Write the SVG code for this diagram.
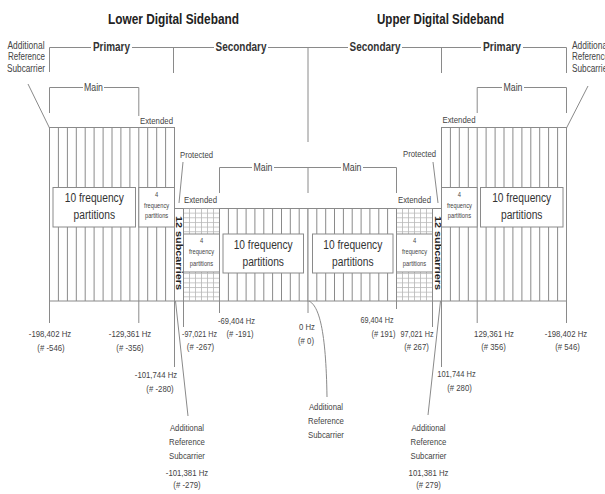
<svg xmlns="http://www.w3.org/2000/svg" width="605" height="494" viewBox="0 0 605 494">
<style>
.ln{stroke:#8a8a8a;stroke-width:1;fill:none}
.bx{fill:#fff;stroke:#8a8a8a;stroke-width:1}
.fr{fill:#fff;stroke:#8a8a8a;stroke-width:1}
.t{font-family:"Liberation Sans",Arial,sans-serif;fill:#444;text-anchor:middle}
.title{font-size:15px;font-weight:bold;fill:#222}
.hd{font-size:12px;font-weight:bold;fill:#333}
.lb{font-size:10px}
.mn{font-size:10.5px}
.sm{font-size:9.5px}
.bt{font-size:12.5px;fill:#333}
.tiny{font-size:7px}
.vt{font-size:9px;font-weight:bold;fill:#222}
.st{text-anchor:start}
</style>
<defs>
<pattern id="gridL" patternUnits="userSpaceOnUse" x="183" y="208" width="6" height="4.65"><path d="M0.5,0V4.65M0,0.5H6" stroke="#b8b8b8" stroke-width="0.8" fill="none"/></pattern>
<pattern id="gridR" patternUnits="userSpaceOnUse" x="396" y="208" width="6" height="4.65"><path d="M0.5,0V4.65M0,0.5H6" stroke="#b8b8b8" stroke-width="0.8" fill="none"/></pattern>
</defs>
<rect width="605" height="494" fill="#fff"/>

<g id="titles">
<text class="t title" x="173.5" y="24" textLength="131" lengthAdjust="spacingAndGlyphs">Lower Digital Sideband</text>
<text class="t title" x="440.5" y="24" textLength="127" lengthAdjust="spacingAndGlyphs">Upper Digital Sideband</text>
</g>

<g id="lower-primary">
<rect class="fr" x="49.5" y="127.5" width="125" height="173.5"/>
<path class="ln" d="M58.4,127.5V301M67.4,127.5V301M76.3,127.5V301M85.2,127.5V301M94.1,127.5V301M103.1,127.5V301M112,127.5V301M120.9,127.5V301M129.9,127.5V301M138.8,127.5V301M147.7,127.5V301M156.7,127.5V301M165.6,127.5V301"/>
<rect class="bx" x="53" y="187.5" width="82.5" height="39.5"/>
<text class="t bt" x="94.3" y="202" textLength="59" lengthAdjust="spacingAndGlyphs">10 frequency</text>
<text class="t bt" x="94.3" y="219" textLength="41.5" lengthAdjust="spacingAndGlyphs">partitions</text>
<rect class="bx" x="138.8" y="187.5" width="35.7" height="39.5"/>
<text class="t tiny" x="156.6" y="197" textLength="3.2" lengthAdjust="spacingAndGlyphs">4</text>
<text class="t tiny" x="156.6" y="208" textLength="25" lengthAdjust="spacingAndGlyphs">frequency</text>
<text class="t tiny" x="156.6" y="218" textLength="23.3" lengthAdjust="spacingAndGlyphs">partitions</text>
</g>

<g id="lower-secondary">
<rect class="fr" x="174.5" y="208.5" width="133.5" height="92.5"/>
<rect x="183.5" y="208.5" width="36" height="92.5" fill="url(#gridL)"/>
<path class="ln" d="M183.5,208.5V301M219.5,208.5V301M228.4,208.5V301M237.2,208.5V301M246.1,208.5V301M254.9,208.5V301M263.8,208.5V301M272.6,208.5V301M281.5,208.5V301M290.3,208.5V301M299.2,208.5V301"/>
<rect class="bx" x="183.5" y="234" width="36" height="38"/>
<text class="t tiny" x="201.5" y="243" textLength="3.2" lengthAdjust="spacingAndGlyphs">4</text>
<text class="t tiny" x="201.5" y="254" textLength="25" lengthAdjust="spacingAndGlyphs">frequency</text>
<text class="t tiny" x="201.5" y="266" textLength="23.3" lengthAdjust="spacingAndGlyphs">partitions</text>
<rect class="bx" x="223" y="234" width="80.5" height="39"/>
<text class="t bt" x="263.2" y="249" textLength="59" lengthAdjust="spacingAndGlyphs">10 frequency</text>
<text class="t bt" x="263.2" y="266" textLength="41.5" lengthAdjust="spacingAndGlyphs">partitions</text>
<text class="t vt" transform="translate(176,253) rotate(90)" textLength="74" lengthAdjust="spacingAndGlyphs">12 subcarriers</text>
</g>

<g id="upper-secondary">
<rect class="fr" x="308" y="208.5" width="133.5" height="92.5"/>
<rect x="396.5" y="208.5" width="36" height="92.5" fill="url(#gridR)"/>
<path class="ln" d="M432.5,208.5V301M396.5,208.5V301M387.6,208.5V301M378.8,208.5V301M369.9,208.5V301M361.1,208.5V301M352.2,208.5V301M343.4,208.5V301M334.5,208.5V301M325.7,208.5V301M316.8,208.5V301"/>
<rect class="bx" x="396.5" y="234" width="36" height="38"/>
<text class="t tiny" x="414.5" y="243" textLength="3.2" lengthAdjust="spacingAndGlyphs">4</text>
<text class="t tiny" x="414.5" y="254" textLength="25" lengthAdjust="spacingAndGlyphs">frequency</text>
<text class="t tiny" x="414.5" y="266" textLength="23.3" lengthAdjust="spacingAndGlyphs">partitions</text>
<rect class="bx" x="312.5" y="234" width="80.5" height="39"/>
<text class="t bt" x="352.8" y="249" textLength="59" lengthAdjust="spacingAndGlyphs">10 frequency</text>
<text class="t bt" x="352.8" y="266" textLength="41.5" lengthAdjust="spacingAndGlyphs">partitions</text>
<text class="t vt" transform="translate(434.5,253) rotate(90)" textLength="74" lengthAdjust="spacingAndGlyphs">12 subcarriers</text>
</g>

<g id="upper-primary">
<rect class="fr" x="441.5" y="127.5" width="125" height="173.5"/>
<path class="ln" d="M557.6,127.5V301M548.6,127.5V301M539.7,127.5V301M530.8,127.5V301M521.9,127.5V301M512.9,127.5V301M504,127.5V301M495.1,127.5V301M486.1,127.5V301M477.2,127.5V301M468.3,127.5V301M459.3,127.5V301M450.4,127.5V301"/>
<rect class="bx" x="441.5" y="187.5" width="35.7" height="39.5"/>
<text class="t tiny" x="459.4" y="197" textLength="3.2" lengthAdjust="spacingAndGlyphs">4</text>
<text class="t tiny" x="459.4" y="208" textLength="25" lengthAdjust="spacingAndGlyphs">frequency</text>
<text class="t tiny" x="459.4" y="218" textLength="23.3" lengthAdjust="spacingAndGlyphs">partitions</text>
<rect class="bx" x="480.5" y="187.5" width="82.5" height="39.5"/>
<text class="t bt" x="521.7" y="202" textLength="59" lengthAdjust="spacingAndGlyphs">10 frequency</text>
<text class="t bt" x="521.7" y="219" textLength="41.5" lengthAdjust="spacingAndGlyphs">partitions</text>
</g>

<g id="connectors">
<path class="ln" d="M49.5,72V47.5H91M132,47.5H214M268,47.5H348M402,47.5H481M523,47.5H566.5V73M173.5,47.5V73M308,47.5V142M441.5,47.5V73"/>
<path class="ln" d="M49.5,113V87.5H83M104,87.5H138.8V116"/>
<path class="ln" d="M477.2,113V87.5H502M524,87.5H566.5V113"/>
<path class="ln" d="M219.5,193V167.5H252M274,167.5H341M363,167.5H396.5V193M308,167.5V193"/>
<path class="ln" d="M28,84L49.5,128M588,86L566.5,128"/>
<path class="ln" d="M183,162L179,203M433,162L438,203"/>
<path class="ln" d="M49.5,301V323M138.8,301V323M174.5,301V367M183.5,301V327M219.5,301V313M308,301V313M396.5,301V309M432.5,301V327M441.5,301V367M477.2,301V323M566.5,301V323"/>
<path class="ln" d="M175.5,301L188,416M440.5,301L428,415M309,301C319,306 326,330 327,397"/>
</g>

<g id="band-labels">
<text class="t hd" x="111.5" y="51" textLength="37" lengthAdjust="spacingAndGlyphs">Primary</text>
<text class="t hd" x="241" y="51" textLength="51" lengthAdjust="spacingAndGlyphs">Secondary</text>
<text class="t hd" x="375" y="51" textLength="51" lengthAdjust="spacingAndGlyphs">Secondary</text>
<text class="t hd" x="502" y="51" textLength="38" lengthAdjust="spacingAndGlyphs">Primary</text>
<text class="t mn" x="93.5" y="91" textLength="19" lengthAdjust="spacingAndGlyphs">Main</text>
<text class="t mn" x="513" y="91" textLength="19" lengthAdjust="spacingAndGlyphs">Main</text>
<text class="t mn" x="263" y="171" textLength="19" lengthAdjust="spacingAndGlyphs">Main</text>
<text class="t mn" x="352" y="171" textLength="19" lengthAdjust="spacingAndGlyphs">Main</text>
<text class="t sm" x="156.5" y="124" textLength="33" lengthAdjust="spacingAndGlyphs">Extended</text>
<text class="t sm" x="459" y="123" textLength="33" lengthAdjust="spacingAndGlyphs">Extended</text>
<text class="t sm" x="200.5" y="203" textLength="33" lengthAdjust="spacingAndGlyphs">Extended</text>
<text class="t sm" x="414.5" y="203" textLength="33" lengthAdjust="spacingAndGlyphs">Extended</text>
<text class="t sm" x="196.5" y="158" textLength="33" lengthAdjust="spacingAndGlyphs">Protected</text>
<text class="t sm" x="419.5" y="157" textLength="33" lengthAdjust="spacingAndGlyphs">Protected</text>
</g>

<g id="ars-top-left">
<text class="t lb" x="26" y="49" textLength="37" lengthAdjust="spacingAndGlyphs">Additional</text>
<text class="t lb" x="26.5" y="60" textLength="37" lengthAdjust="spacingAndGlyphs">Reference</text>
<text class="t lb" x="26" y="71.5" textLength="38" lengthAdjust="spacingAndGlyphs">Subcarrier</text>
</g>
<g id="ars-top-right">
<text class="t lb st" x="572" y="49" textLength="37" lengthAdjust="spacingAndGlyphs">Additional</text>
<text class="t lb st" x="572" y="60" textLength="37" lengthAdjust="spacingAndGlyphs">Reference</text>
<text class="t lb st" x="572" y="71.5" textLength="38" lengthAdjust="spacingAndGlyphs">Subcarrier</text>
</g>

<g id="freq-labels">
<text class="t sm" x="50" y="337" textLength="42.4" lengthAdjust="spacingAndGlyphs">-198,402 Hz</text>
<text class="t sm" x="51" y="351" textLength="27.3" lengthAdjust="spacingAndGlyphs">(# -546)</text>
<text class="t sm" x="130" y="337" textLength="42.4" lengthAdjust="spacingAndGlyphs">-129,361 Hz</text>
<text class="t sm" x="130" y="351" textLength="27.3" lengthAdjust="spacingAndGlyphs">(# -356)</text>
<text class="t sm" x="199.5" y="337" textLength="35" lengthAdjust="spacingAndGlyphs">-97,021 Hz</text>
<text class="t sm" x="200.5" y="350" textLength="27.3" lengthAdjust="spacingAndGlyphs">(# -267)</text>
<text class="t sm" x="236.5" y="324" textLength="37" lengthAdjust="spacingAndGlyphs">-69,404 Hz</text>
<text class="t sm" x="240" y="337" textLength="27" lengthAdjust="spacingAndGlyphs">(# -191)</text>
<text class="t sm" x="156" y="378" textLength="42.4" lengthAdjust="spacingAndGlyphs">-101,744 Hz</text>
<text class="t sm" x="160" y="392" textLength="27.3" lengthAdjust="spacingAndGlyphs">(# -280)</text>
<text class="t sm" x="307" y="330" textLength="16" lengthAdjust="spacingAndGlyphs">0 Hz</text>
<text class="t sm" x="306" y="344" textLength="16" lengthAdjust="spacingAndGlyphs">(# 0)</text>
<text class="t sm" x="377" y="323" textLength="33" lengthAdjust="spacingAndGlyphs">69,404 Hz</text>
<text class="t sm" x="383.5" y="337" textLength="24" lengthAdjust="spacingAndGlyphs">(# 191)</text>
<text class="t sm" x="417" y="337" textLength="33" lengthAdjust="spacingAndGlyphs">97,021 Hz</text>
<text class="t sm" x="416.5" y="350" textLength="24.7" lengthAdjust="spacingAndGlyphs">(# 267)</text>
<text class="t sm" x="456.5" y="377" textLength="38.5" lengthAdjust="spacingAndGlyphs">101,744 Hz</text>
<text class="t sm" x="459.5" y="391" textLength="24.7" lengthAdjust="spacingAndGlyphs">(# 280)</text>
<text class="t sm" x="494" y="337" textLength="39.8" lengthAdjust="spacingAndGlyphs">129,361 Hz</text>
<text class="t sm" x="493.5" y="350" textLength="24.7" lengthAdjust="spacingAndGlyphs">(# 356)</text>
<text class="t sm" x="566" y="337" textLength="42.4" lengthAdjust="spacingAndGlyphs">-198,402 Hz</text>
<text class="t sm" x="567.5" y="350" textLength="24.7" lengthAdjust="spacingAndGlyphs">(# 546)</text>
</g>

<g id="ars-bottom-left">
<text class="t sm" x="187" y="431" textLength="34.2" lengthAdjust="spacingAndGlyphs">Additional</text>
<text class="t sm" x="187" y="445" textLength="35.9" lengthAdjust="spacingAndGlyphs">Reference</text>
<text class="t sm" x="187" y="459" textLength="35.9" lengthAdjust="spacingAndGlyphs">Subcarrier</text>
<text class="t sm" x="187" y="476" textLength="42.4" lengthAdjust="spacingAndGlyphs">-101,381 Hz</text>
<text class="t sm" x="187" y="488" textLength="27.3" lengthAdjust="spacingAndGlyphs">(# -279)</text>
</g>
<g id="ars-center">
<text class="t sm" x="326" y="410" textLength="34.2" lengthAdjust="spacingAndGlyphs">Additional</text>
<text class="t sm" x="326" y="424" textLength="35.9" lengthAdjust="spacingAndGlyphs">Reference</text>
<text class="t sm" x="326" y="438" textLength="35.9" lengthAdjust="spacingAndGlyphs">Subcarrier</text>
</g>
<g id="ars-bottom-right">
<text class="t sm" x="428.5" y="431" textLength="34.2" lengthAdjust="spacingAndGlyphs">Additional</text>
<text class="t sm" x="428.5" y="445" textLength="35.9" lengthAdjust="spacingAndGlyphs">Reference</text>
<text class="t sm" x="428.5" y="459" textLength="35.9" lengthAdjust="spacingAndGlyphs">Subcarrier</text>
<text class="t sm" x="428.5" y="476" textLength="39.8" lengthAdjust="spacingAndGlyphs">101,381 Hz</text>
<text class="t sm" x="428.5" y="488" textLength="24.7" lengthAdjust="spacingAndGlyphs">(# 279)</text>
</g>
</svg>
